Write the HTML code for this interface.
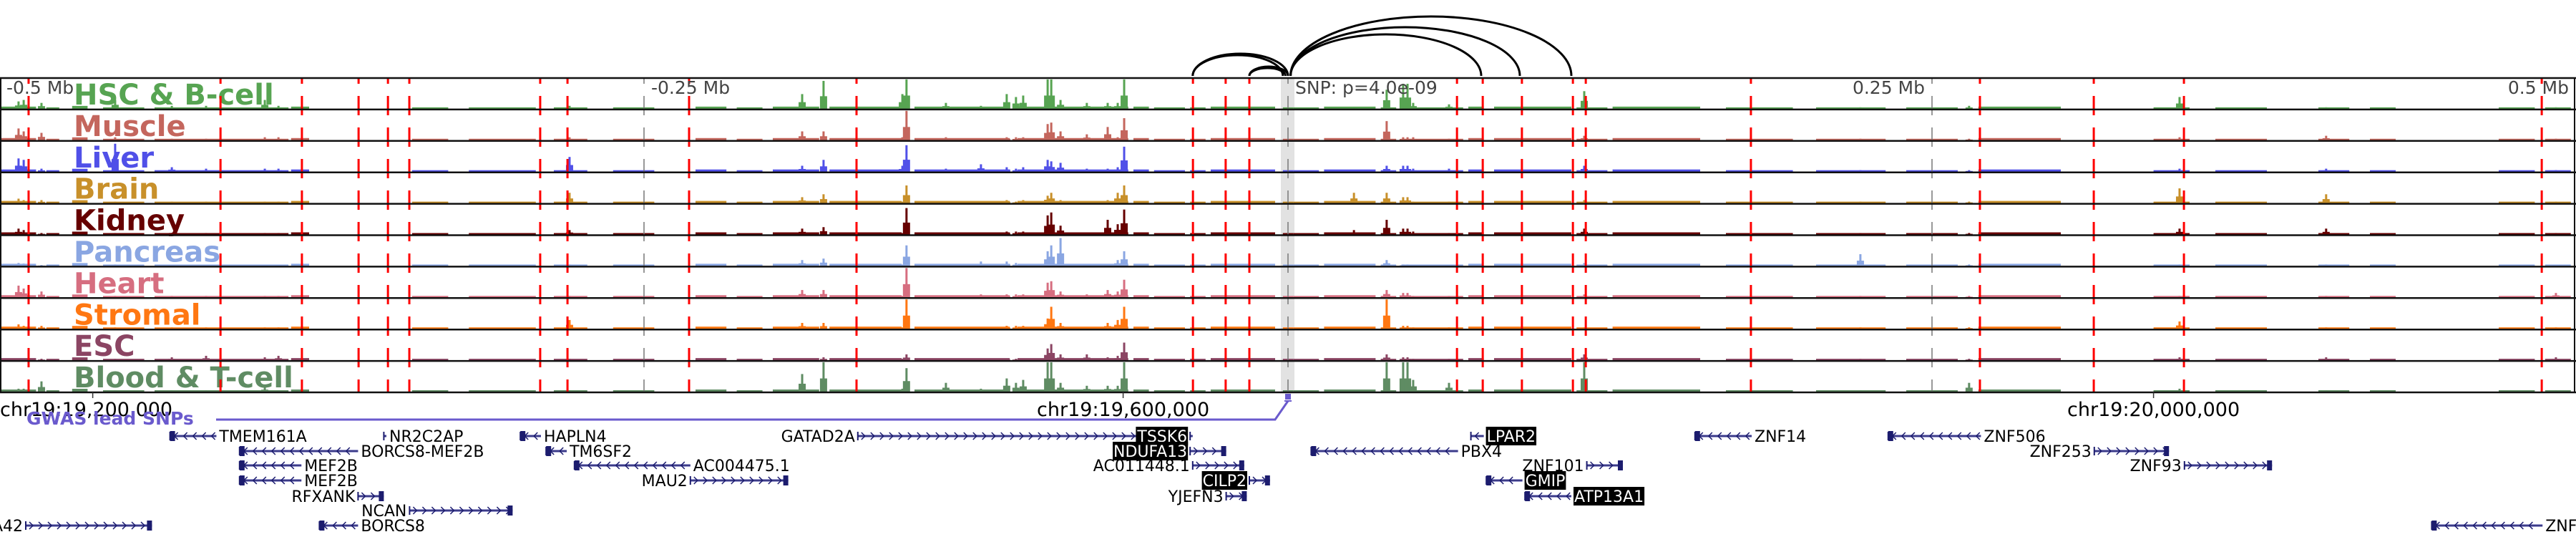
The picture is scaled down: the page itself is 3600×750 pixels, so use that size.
<!DOCTYPE html>
<html><head><meta charset="utf-8"><style>
html,body{margin:0;padding:0;background:#fff;width:3600px;height:750px;overflow:hidden}
svg{display:block}
text{font-family:"DejaVu Sans","Liberation Sans",sans-serif}
</style></head><body>
<svg id="chart" width="3600" height="750" viewBox="0 0 3600 750" xmlns="http://www.w3.org/2000/svg">
<rect x="1790" y="109" width="19" height="439" fill="#e2e2e2"/>
<g id="bars"></g>
<g id="labels"></g>
<g id="vlines"></g>
<g id="frames"></g>
<g id="arcs"></g>
<g id="ticks"></g>
<g id="genes"></g>
</svg>
<script>
// ----- data arrays -----
const trackNames = ["HSC & B-cell","Muscle","Liver","Brain","Kidney","Pancreas","Heart","Stromal","ESC","Blood & T-cell"];
const trackColors = ["#57a452","#c4665d","#5050e8","#c8902a","#660000","#8aa6e2","#d66e80","#ff7712","#8b4563","#5f8c63"];
// peak positions in kb relative to lead SNP
const peakKb = [-492.8,-490.8,-483.9,-455.3,-433.3,-420,-397.2,-391.9,-278.9,-188.6,-180.3,-149.7,-148.1,-132.8,-119.2,-109.2,-105.6,-102.8,-93.3,-91.9,-88.3,-78.1,-70,-66.1,-63.6,25.6,38.3,44.7,46.4,48.6,62.5,115,179.7,222.2,264.4,346.1,403,492.2];
// relative heights (0..1) per track, one value per peak
const peakH = [
 [.25,.3,.2,.3,.1,.1,.3,.1,.1,.5,.95,.5,1,.2,.1,.5,.4,.45,1,1,.3,.2,.2,.2,1,.05,.65,.85,.85,.2,.15,.6,.05,.05,.1,.4,.05,.05],
 [.4,.3,.25,.1,.05,.05,.1,.1,.1,.3,.3,.1,1,.1,.05,.1,.1,.1,.55,.6,.3,.2,.45,.1,.75,.05,.65,.1,.1,.1,.05,.15,.05,.05,.05,.1,.15,.05],
 [.45,.4,.1,.95,.15,.1,.1,.1,.5,.2,.4,.2,.9,.1,.25,.15,.1,.15,.4,.35,.3,.1,.1,.15,.85,.05,.2,.2,.2,.1,.1,.2,.05,.05,.05,.1,.1,.05],
 [.15,.1,.1,.05,.05,.05,.05,.05,.35,.2,.3,.05,.6,.05,.05,.1,.05,.1,.25,.35,.1,.05,.1,.35,.6,.35,.35,.2,.2,.05,.05,.1,.05,.05,.05,.5,.3,.05],
 [.2,.15,.05,.05,.05,.05,.05,.05,.15,.2,.25,.05,.9,.05,.05,.1,.1,.1,.65,.75,.3,.05,.5,.35,.85,.15,.5,.2,.2,.1,.05,.2,.05,.05,.05,.2,.2,.05],
 [.1,.08,.03,.05,.02,.02,.02,.02,.05,.2,.25,.05,.7,.05,.15,.15,.1,.05,.5,.7,.95,.05,.05,.2,.5,.05,.2,.05,.05,.02,.02,.1,.05,.4,.05,.05,.05,.03],
 [.4,.3,.2,.05,.05,.05,.05,.05,.05,.25,.25,.05,1,.05,.1,.1,.1,.1,.5,.55,.2,.1,.25,.2,.6,.05,.25,.15,.15,.05,.05,.1,.05,.05,.05,.05,.05,.15],
 [.15,.1,.1,.05,.05,.05,.05,.05,.3,.2,.2,.05,1,.05,.05,.1,.1,.1,.35,.75,.2,.05,.2,.3,.75,.05,1,.1,.1,.05,.05,.05,.05,.05,.05,.25,.05,.05],
 [.05,.05,.05,.05,.1,.15,.1,.15,.05,.05,.1,.05,.2,.05,.05,.05,.05,.05,.4,.55,.2,.2,.1,.15,.6,.05,.2,.1,.1,.05,.05,.2,.05,.05,.05,.1,.1,.1],
 [.1,.1,.35,.05,.05,.05,.15,.05,.05,.6,1,.1,.8,.3,.1,.45,.3,.4,1,1,.3,.2,.2,.2,1,.05,1,1,1,.4,.3,1,.05,.05,.3,.1,.05,.05]
];
// background signal regions [startKb, endKb] and baseline level (px)
const bgStart = [-500,-482,-472,-460,-440,-387,-340,-318,-285,-262,-230,-214,-200,-178,-145,-105,-60,-52,-38,-30,-2,2,14,36,44,70,80,112,126,170,205,240,268,336,360,400,420,470,488];
const bgEnd   = [-486,-477,-466,-444,-388,-380,-326,-292,-272,-246,-218,-204,-182,-150,-108,-62,-54,-40,-32,-5,2,12,34,42,68,76,110,124,160,196,232,260,300,350,380,412,430,484,498];
const bgLevel = [3,2,4,2,2,3,2,2,2,2,3,2,3,3,3,3,3,2,2,3,2,2,3,2,2,3,3,2,3,2,2,2,3,2,2,2,2,2,2];
const redKb = [-488.9,-414.4,-382.8,-360.8,-349.4,-341.1,-290.3,-279.7,-232.5,-167.5,-36.9,-24.2,-15,65.6,75.6,90.8,110.6,115.6,179.7,268.6,312.8,347.8,486.7];
const greyKb = [-250,0,250];
const topTickKb = [-500,-250,0,250,500];
const topTickText = ["-0.5 Mb","-0.25 Mb","SNP: p=4.0e-09","0.25 Mb","0.5 Mb"];
const chrTickKb = [-464,-64,336];
const chrTickText = ["chr19:19,200,000","chr19:19,600,000","chr19:20,000,000"];
const arcStartKb = [-37,-37,-15,-15,1,1,1];
const arcEndKb = [0,-2,0,-1,75,90,110];
const arcHeight = [31,29,13,11,58,68,83];
// genes
const geneName = ["TMEM161A","NR2C2AP","HAPLN4","GATAD2A","TSSK6","LPAR2","ZNF14","ZNF506","BORCS8-MEF2B","TM6SF2","NDUFA13","PBX4","ZNF253","MEF2B","AC004475.1","AC011448.1","ZNF101","ZNF93","MEF2B","MAU2","CILP2","GMIP","RFXANK","YJEFN3","ATP13A1","NCAN","SLC25A42","BORCS8","ZNF"];
const geneStart = [-434,-351,-298,-167,-38,71,158,233,-407,-288,-38,9,313,-407,-277,-37,116,348,-407,-232,-15,77,-361,-24,92,-341,-490,-376,444];
const geneEnd = [-416,-350,-290,-44,-37,76,180,269,-361,-280,-24,66,342,-383,-232,-17,130,382,-383,-194,-7,91,-351,-16,110,-301,-441,-361,487];
const geneRow = [0,0,0,0,0,0,0,0,1,1,1,1,1,2,2,2,2,2,3,3,3,3,4,4,4,5,6,6,6];
const geneStrand = ["-","-","-","+","+","-","-","-","-","-","+","-","+","-","-","+","+","+","-","+","+","-","+","+","-","+","+","-","-"];
const geneBoxed = [0,0,0,0,1,1,0,0,0,0,1,0,0,0,0,0,0,0,0,0,1,1,0,0,1,0,0,0,0];

// ----- scales / layout -----
const NS="http://www.w3.org/2000/svg";
const X = kb => 1800 + kb*3.6;
const trackTop = 109, trackH = 43.9, maxBar = 41;
const rowY = [609,630,650,671,693,713,734];
function el(tag, attrs, parent){const e=document.createElementNS(NS,tag);for(const k in attrs)e.setAttribute(k,attrs[k]);parent.appendChild(e);return e;}
const gBars=document.getElementById('bars'), gLab=document.getElementById('labels'), gV=document.getElementById('vlines'),
 gF=document.getElementById('frames'), gA=document.getElementById('arcs'), gT=document.getElementById('ticks'), gG=document.getElementById('genes');

for(let t=0;t<trackNames.length;t++){
  const base = trackTop + trackH*(t+1) - 1;
  const col = trackColors[t];
  const lab = el('text',{x:103,y:trackTop+trackH*t+37,fill:col,'font-size':40,'font-weight':'bold'},gLab);
  lab.textContent = trackNames[t];
  
  
  for(let i=0;i<bgStart.length;i++){
    const x1=X(bgStart[i]), x2=X(bgEnd[i]);
    const r=el('rect',{x:x1,y:base-bgLevel[i],width:x2-x1,height:bgLevel[i],fill:col},gBars);
    
    
  }
  for(let i=0;i<peakKb.length;i++){
    const h=peakH[t][i]*maxBar, x=X(peakKb[i]);
    const r=el('rect',{x:x-1.5,y:base-h,width:3,height:h,fill:col},gBars);
    
    
    const s=el('rect',{x:x-5,y:base-h*0.45,width:10,height:h*0.45,fill:col},gBars);
    
    
  }
}
for(let t=0;t<=trackNames.length;t++){
  const y=trackTop+trackH*t;
  const l=el('line',{x1:0,x2:3600,y1:y,y2:y,stroke:'#111','stroke-width':2.5},gF);
  
  
}
el('line',{x1:3598,x2:3598,y1:109,y2:548,stroke:'#111','stroke-width':2},gF);
el('line',{x1:1,x2:1,y1:109,y2:548,stroke:'#111','stroke-width':2},gF);
for(const kb of redKb){
  const l=el('line',{x1:X(kb),x2:X(kb),y1:109,y2:548,stroke:'#ff0000','stroke-width':3,'stroke-dasharray':'27 17','stroke-dashoffset':19},gV);
  
  
}
for(const kb of greyKb){
  const l=el('line',{x1:X(kb),x2:X(kb),y1:109,y2:548,stroke:'#777','stroke-width':1.5,'stroke-dasharray':'27 17','stroke-dashoffset':19},gV);
  
  
}
for(let i=0;i<topTickKb.length;i++){
  const x=X(topTickKb[i]);
  let tx=x+10, anchor='start';
  if(topTickKb[i]>0){tx=x-10;anchor='end';}
  if(i===0)tx=9;
  const t=el('text',{x:tx,y:131,'font-size':25,fill:'#444','text-anchor':anchor},gT);
  t.textContent=topTickText[i];
  
  
}
for(let i=0;i<arcStartKb.length;i++){
  const x1=X(arcStartKb[i]), x2=X(arcEndKb[i]);
  const a=Math.min(x1,x2), b=Math.max(x1,x2);
  const p=el('path',{d:`M${a},106 A${(b-a)/2},${arcHeight[i]} 0 0 1 ${b},106`,fill:'none',stroke:'#000','stroke-width':3},gA);
  
  
}
for(let i=0;i<chrTickKb.length;i++){
  const x=X(chrTickKb[i]);
  el('line',{x1:x,x2:x,y1:548,y2:556,stroke:'#333','stroke-width':1.5},gT);
  const t=el('text',{x:i===0?0:x,y:581,'font-size':27,fill:'#000','text-anchor':i===0?'start':'middle'},gT);
  t.textContent=chrTickText[i];
  
  
}
const gw=el('text',{x:37,y:593,'font-size':25,'font-weight':'bold',fill:'#6a5acd'},gT);
gw.textContent='GWAS lead SNPs';


el('polyline',{points:'302,586 1782,586 1800,560',fill:'none',stroke:'#6a5acd','stroke-width':3},gT);
el('line',{x1:1795,x2:1805,y1:560,y2:560,stroke:'#6a5acd','stroke-width':2},gT);
const snp=el('rect',{x:1796,y:550,width:8,height:8,fill:'#6a5acd'},gT);


for(let i=0;i<geneName.length;i++){
  const x1=X(geneStart[i]), x2=X(geneEnd[i]), y=rowY[geneRow[i]];
  const g=el('g',{},gG);
  
  
  el('line',{x1:x1,x2:x2,y1:y,y2:y,stroke:'#9a9ad0','stroke-width':4},g);
  el('line',{x1:x1,x2:x2,y1:y,y2:y,stroke:'#1c1c6e','stroke-width':1.5},g);
  el('line',{x1:x1,x2:x1,y1:y-6,y2:y+6,stroke:'#1c1c6e','stroke-width':2},g);
  for(let cx=x1+8;cx<x2-4;cx+=13){
    const d=geneStrand[i]==='+'?`M${cx-3},${y-5} L${cx+2},${y} L${cx-3},${y+5}`:`M${cx+3},${y-5} L${cx-2},${y} L${cx+3},${y+5}`;
    el('path',{d:d,fill:'none',stroke:'#1c1c6e','stroke-width':1.5},g);
  }
  if(x2-x1>20){
    const bx=geneStrand[i]==='+'?x2-7:x1;
    el('rect',{x:bx,y:y-7,width:7,height:14,fill:'#1c1c6e'},g);
  }
  const right = geneStrand[i]==='-';
  const tx = right? x2+4 : x1-4;
  const t=el('text',{x:tx,y:y+8,'font-size':22,fill:geneBoxed[i]?'#fff':'#000','text-anchor':right?'start':'end'},g);
  t.textContent=geneName[i];
  if(geneBoxed[i]){
    const bb=t.getBBox();
    const r=document.createElementNS(NS,'rect');
    r.setAttribute('x',bb.x-1);r.setAttribute('y',y-13);r.setAttribute('width',bb.width+2);r.setAttribute('height',26);r.setAttribute('fill','#000');
    g.insertBefore(r,t);
  }
}
</script>
</body></html>
